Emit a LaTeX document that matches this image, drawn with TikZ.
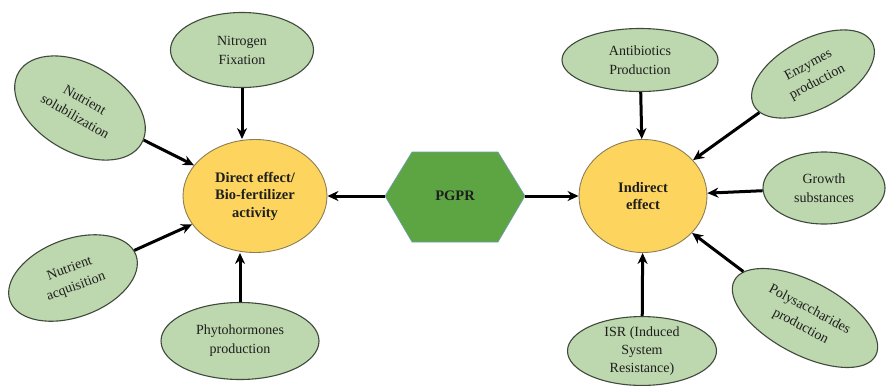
\documentclass[tikz,border=0pt]{standalone}
\usepackage{fontspec}
\setmainfont{Liberation Serif}
\usetikzlibrary{shapes.geometric,arrows.meta}
\definecolor{satfill}{HTML}{BDD7AE}
\definecolor{satline}{HTML}{3F4A3C}
\definecolor{hubfill}{HTML}{FCD45E}
\definecolor{hubline}{HTML}{8C7D55}
\definecolor{hexfill}{HTML}{5DA543}
\definecolor{hexline}{HTML}{6E9DB5}
\definecolor{txt}{HTML}{1E1E1E}
\tikzset{
  sat/.style={ellipse, fill=satfill, draw=satline, line width=1.1pt, inner sep=0pt,
    align=center, text=txt, font=\fontsize{14}{19}\selectfont},
  hubnode/.style={ellipse, fill=hubfill, draw=hubline, line width=0.9pt, inner sep=0pt,
    align=center, text=txt, font=\fontsize{14.5}{17.5}\selectfont\bfseries},
  arr/.style={line width=3pt, -{Stealth[length=11pt,width=10pt]}, black},
}
\begin{document}
\begin{tikzpicture}[x=1pt,y=-1pt]
\useasboundingbox (0,0) rectangle (890,386);
% satellites
\node[sat, minimum width=143pt, minimum height=75pt] (nf) at (242,50) {Nitrogen\\Fixation};
\node[sat, minimum width=142pt, minimum height=88pt, rotate=-30] (ns) at (80,108) {Nutrient\\solubilization};
\node[sat, minimum width=134pt, minimum height=78pt, rotate=20] (na) at (73,278) {Nutrient\\acquisition};
\node[sat, minimum width=158pt, minimum height=77pt] (ph) at (240,341) {Phytohormones\\production};
\node[sat, minimum width=156pt, minimum height=63pt] (ab) at (640,60) {Antibiotics\\Production};
\node[sat, minimum width=134pt, minimum height=70pt, rotate=28] (en) at (813,74) {Enzymes\\production};
\node[sat, minimum width=122pt, minimum height=72pt] (gs) at (824,188) {Growth\\substances};
\node[sat, minimum width=160pt, minimum height=73pt, rotate=-28] (ps) at (805,318) {Polysaccharides\\production};
\node[sat, minimum width=149pt, minimum height=67pt, font=\fontsize{14}{18}\selectfont] (isr) at (642,351) {ISR (Induced\\System\\Resistance)};
% hubs
\node[hubnode, minimum width=144pt, minimum height=113pt] (de) at (255,196) {Direct effect/\\Bio-fertilizer\\activity};
\node[hubnode, minimum width=128pt, minimum height=113pt] (ie) at (643,196) {Indirect\\effect};
% hexagon
\coordinate (hc) at (455,196);
\filldraw[fill=hexfill, draw=hexline, line width=0.6pt]
  ([shift={(-70,0)}]hc) -- ++(27,-44) -- ++(86,0) -- ++(27,44) -- ++(-27,46) -- ++(-86,0) -- cycle;
\node[font=\fontsize{14.5}{17}\selectfont\bfseries, text=txt, minimum width=140pt, minimum height=90pt, inner sep=0pt] (pgpr) at (hc) {PGPR};
% connectors
\draw[arr] (pgpr.west) -- (de);
\draw[arr] (pgpr.east) -- (ie);
\draw[arr] (nf) -- (nf |- de.north);
\draw[arr] (ns) -- (de);
\draw[arr] (na) -- (de);
\draw[arr] (ph) -- (ph |- de.south);
\draw[arr] (ab) -- (ie);
\draw[arr] (en) -- (ie);
\draw[arr] (gs) -- (ie);
\draw[arr] (ps) -- (ie);
\draw[arr] (isr) -- (ie);
\end{tikzpicture}
\end{document}
